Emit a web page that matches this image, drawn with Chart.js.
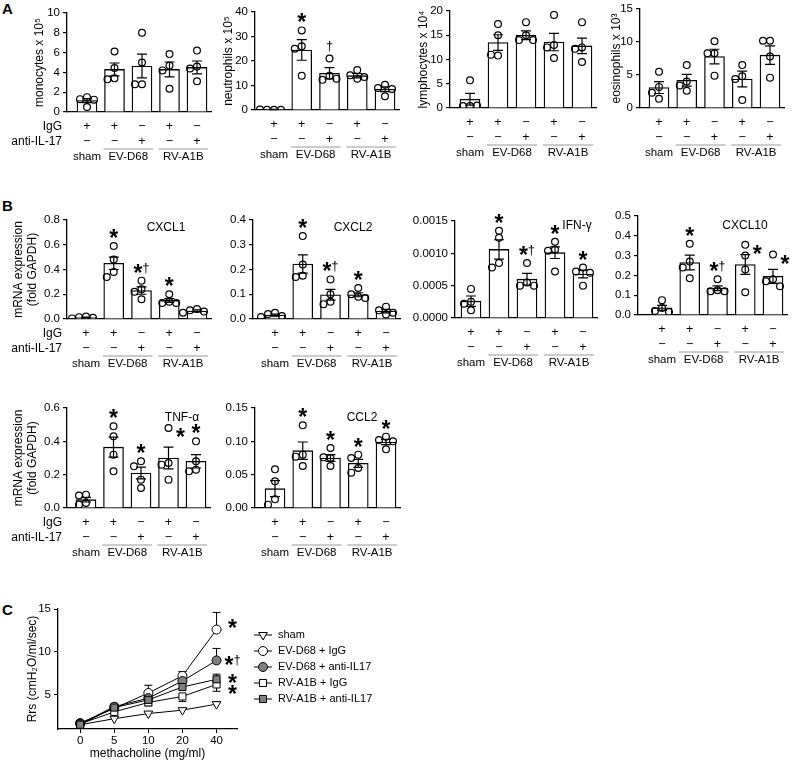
<!DOCTYPE html>
<html>
<head>
<meta charset="utf-8">
<script src="https://cdn.jsdelivr.net/npm/chart.js@4.4.1/dist/chart.umd.min.js"></script>
<style>
body { margin: 0; background: #fff; width: 793px; height: 761px; position: relative; overflow: hidden; }
canvas { position: absolute; }
.tag { position: absolute; font: bold 15px 'Liberation Sans', Arial, sans-serif; }
</style>
</head>
<body>
<div class="tag" style="left:2px;top:0px">A</div>
<div class="tag" style="left:2px;top:197px">B</div>
<div class="tag" style="left:2px;top:601px">C</div>
<script>
// ---- table rows under the bars
const igRow = ['+', '+', '−', '+', '−'];
const antiRow = ['−', '−', '+', '−', '+'];
const groupNames = ['sham', 'EV-D68', 'RV-A1B'];

// ---- A: BAL cells (mean, sem, single mice)
const monoMean = [1.15, 4.3, 4.65, 4.3, 4.5];
const monoSem = [0.2, 0.65, 1.2, 0.75, 0.65];
const monoPts = [[1.5, 1.3, 1.25, 0.5], [6.1, 4.45, 3.4, 3.3], [8.0, 5.0, 2.8, 2.8], [5.85, 4.7, 4.2, 2.35], [6.2, 4.6, 4.4, 3.1]];
const monoMarks = ['', '', '', '', ''];

const neutMean = [0.2, 24.5, 15.0, 14.0, 8.5];
const neutSem = [0.1, 4.2, 2.3, 0.9, 1.0];
const neutPts = [[0.1, 0.1, 0.1, 0.2], [32.5, 26, 25, 14], [21, 14, 12.3, 12.8], [16.3, 14.2, 13.5, 12.8], [10.3, 9.0, 8.6, 5.6]];
const neutMarks = ['', '*', '†', '', ''];

const lymphMean = [1.8, 13.5, 15.0, 13.6, 12.8];
const lymphSem = [1.2, 1.6, 0.9, 1.8, 1.6];
const lymphPts = [[5.7, 0.4, 0.4, 0.5], [17.3, 15, 10.8, 11], [17.7, 15, 14, 14], [19.2, 13, 12.5, 10.3], [17.7, 12.5, 12.2, 9.5]];
const lymphMarks = ['', '', '', '', ''];

const eosMean = [3.1, 4.2, 7.8, 4.4, 8.0];
const eosSem = [0.9, 0.9, 1.1, 1.2, 1.4];
const eosPts = [[5.5, 3.2, 2.3, 1.4], [6.5, 4.0, 3.4, 2.6], [10.1, 8.3, 8.3, 4.9], [6.5, 4.8, 4.4, 1.2], [10.2, 10.2, 7.8, 4.6]];
const eosMarks = ['', '', '', '', ''];

// ---- B: mRNA expression
const cxcl1Mean = [0.012, 0.45, 0.23, 0.15, 0.065];
const cxcl1Sem = [0.004, 0.05, 0.03, 0.015, 0.008];
const cxcl1Pts = [[0.02, 0.015, 0.01, 0.005], [0.59, 0.48, 0.38, 0.34], [0.31, 0.24, 0.22, 0.16], [0.2, 0.14, 0.13, 0.13], [0.08, 0.07, 0.06, 0.05]];
const cxcl1Marks = ['', '*', '*†', '*', ''];

const cxcl2Mean = [0.016, 0.222, 0.098, 0.098, 0.032];
const cxcl2Sem = [0.004, 0.037, 0.022, 0.008, 0.007];
const cxcl2Pts = [[0.025, 0.02, 0.012, 0.008], [0.335, 0.22, 0.175, 0.17], [0.16, 0.1, 0.07, 0.06], [0.125, 0.1, 0.09, 0.085], [0.05, 0.035, 0.025, 0.018]];
const cxcl2Marks = ['', '*', '*†', '*', ''];

const ifngMean = [0.00026, 0.00106, 0.0006, 0.00101, 0.00068];
const ifngSem = [0.00008, 0.00015, 0.00009, 0.00009, 0.00006];
const ifngPts = [[0.00045, 0.00025, 0.00022, 0.00012], [0.00135, 0.00124, 0.00085, 0.00078], [0.00085, 0.00055, 0.0005, 0.0005], [0.00118, 0.00106, 0.00104, 0.00072], [0.00078, 0.00072, 0.0007, 0.0005]];
const ifngMarks = ['', '*', '*†', '*', '*'];

const cxcl10Mean = [0.036, 0.265, 0.135, 0.255, 0.195];
const cxcl10Sem = [0.013, 0.037, 0.012, 0.05, 0.035];
const cxcl10Pts = [[0.075, 0.035, 0.02, 0.015], [0.36, 0.27, 0.24, 0.185], [0.18, 0.125, 0.12, 0.12], [0.355, 0.3, 0.23, 0.115], [0.305, 0.18, 0.17, 0.145]];
const cxcl10Marks = ['', '*', '*†', '*', '*'];

const tnfMean = [0.05, 0.365, 0.21, 0.3, 0.28];
const tnfSem = [0.014, 0.06, 0.035, 0.065, 0.04];
const tnfPts = [[0.08, 0.075, 0.03, 0.02], [0.49, 0.43, 0.32, 0.22], [0.28, 0.25, 0.17, 0.12], [0.48, 0.27, 0.26, 0.17], [0.4, 0.28, 0.23, 0.22]];
const tnfMarks = ['', '*', '*', '*', '*'];

const ccl2Mean = [0.029, 0.086, 0.075, 0.067, 0.099];
const ccl2Sem = [0.012, 0.013, 0.005, 0.006, 0.004];
const ccl2Pts = [[0.058, 0.04, 0.013, 0.005], [0.124, 0.08, 0.077, 0.063], [0.09, 0.075, 0.076, 0.063], [0.08, 0.075, 0.06, 0.053], [0.107, 0.102, 0.1, 0.088]];
const ccl2Marks = ['', '*', '*', '*', '*'];

// ---- C: airway resistance
const doses = ['0', '5', '10', '20', '40'];
const seriesNames = ['sham', 'EV-D68 + IgG', 'EV-D68 + anti-IL17', 'RV-A1B + IgG', 'RV-A1B + anti-IL17'];
const shamRrs = [1.5, 2.2, 2.8, 3.2, 3.9];
const evIgGRrs = [1.7, 3.4, 5.2, 7.2, 12.6];
const evAntiRrs = [1.6, 3.6, 4.6, 6.6, 9.0];
const rvIgGRrs = [1.6, 3.0, 4.1, 4.8, 6.2];
const rvAntiRrs = [1.5, 3.5, 4.4, 5.9, 6.8];
const shamSem = [0.1, 0.2, 0.2, 0.2, 0.3];
const evIgGSem = [0.1, 0.3, 0.9, 0.5, 2.0];
const evAntiSem = [0.1, 0.3, 0.4, 0.6, 1.4];
const rvIgGSem = [0.1, 0.2, 0.4, 0.6, 0.8];
const rvAntiSem = [0.1, 0.2, 0.3, 0.5, 0.6];
const rrsMarks = ['', '*', '*†', '*', '*'];

const FONT = "'Liberation Sans', Arial, sans-serif";
Chart.defaults.font.family = FONT;
Chart.defaults.font.size = 11.5;
Chart.defaults.color = '#000';

function drawMark(ctx, s, x, yc) {
  const parts = [...s].map(ch => ({ ch, font: ch === '*' ? 'bold 23px ' + FONT : '13px ' + FONT }));
  let total = 0;
  parts.forEach(p => { ctx.font = p.font; p.w = ctx.measureText(p.ch).width; total += p.w; });
  let x0 = x - total / 2;
  ctx.textAlign = 'left';
  ctx.textBaseline = 'alphabetic';
  ctx.fillStyle = '#000';
  parts.forEach(p => {
    ctx.font = p.font;
    ctx.fillText(p.ch, x0, yc + (p.ch === '*' ? 13 : 4));
    x0 += p.w;
  });
}

// spread points sideways when they would overlap
function swarm(vals, pxPerY, spacing) {
  const placed = [];
  return vals.map(v => {
    const py = v * pxPerY;
    for (const k of [0, -1, 1, -2, 2]) {
      const ox = k * 7;
      if (placed.every(q => Math.hypot(q[0] - ox, q[1] - py) >= 7)) {
        placed.push([ox, py]);
        return ox / spacing;
      }
    }
    placed.push([0, py]);
    return 0;
  });
}

function barExtras(p, cLeft, cTop) {
  return {
    id: 'barExtras',
    afterDatasetsDraw(chart) {
      const ctx = chart.ctx, xs = chart.scales.x, ys = chart.scales.y;
      ctx.save();
      ctx.strokeStyle = '#000';
      ctx.lineWidth = 1.2;
      p.mean.forEach((m, i) => {
        const x = xs.getPixelForValue(i);
        const y1 = ys.getPixelForValue(m + p.sem[i]);
        const y0 = ys.getPixelForValue(Math.max(0, m - p.sem[i]));
        ctx.beginPath();
        ctx.moveTo(x, y0); ctx.lineTo(x, y1);
        ctx.moveTo(x - 5, y1); ctx.lineTo(x + 5, y1);
        ctx.moveTo(x - 5, y0); ctx.lineTo(x + 5, y0);
        ctx.stroke();
      });
      ctx.restore();
    },
    afterDraw(chart) {
      const ctx = chart.ctx, xs = chart.scales.x, ys = chart.scales.y;
      const b = chart.chartArea.bottom;
      const px = i => xs.getPixelForValue(i);
      ctx.save();
      ctx.fillStyle = '#000';
      ctx.textAlign = 'center';
      ctx.textBaseline = 'middle';
      ctx.font = '12.5px ' + FONT;
      igRow.forEach((s, i) => ctx.fillText(s, px(i), b + 15));
      antiRow.forEach((s, i) => ctx.fillText(s, px(i), b + 30));
      ctx.font = '11.5px ' + FONT;
      ctx.fillText(groupNames[0], px(0), b + 45);
      ctx.fillText(groupNames[1], (px(1) + px(2)) / 2, b + 45);
      ctx.fillText(groupNames[2], (px(3) + px(4)) / 2, b + 45);
      ctx.strokeStyle = '#999';
      ctx.lineWidth = 1;
      ctx.beginPath();
      ctx.moveTo(px(1) - 11, b + 37); ctx.lineTo(px(2) + 11, b + 37);
      ctx.moveTo(px(3) - 11, b + 37); ctx.lineTo(px(4) + 11, b + 37);
      ctx.stroke();
      if (p.rowLabels) {
        ctx.textAlign = 'right';
        ctx.font = '12px ' + FONT;
        ctx.fillText('IgG', 62 - cLeft, b + 15);
        ctx.fillText('anti-IL-17', 62 - cLeft, b + 30);
      }
      if (p.label) {
        ctx.textAlign = 'center';
        ctx.font = '12px ' + FONT;
        ctx.fillText(p.label, p.labelX - cLeft, p.labelY - cTop);
      }
      p.marks.forEach((mk, i) => {
        if (!mk) return;
        const topVal = Math.max(...p.pts[i], p.mean[i] + p.sem[i]);
        let x = px(i), y = ys.getPixelForValue(topVal);
        if (p.side && p.side[i]) { x += 12; y += 4; } else { y -= 13; }
        drawMark(ctx, mk, x, y);
      });
      ctx.restore();
    }
  };
}

function makeBarPanel(p) {
  const nLines = Array.isArray(p.title) ? p.title.length : (p.title ? 1 : 0);
  const titleOff = 4 + nLines * 14.4 / 2;
  const scaleLeft = p.titleX ? Math.round(p.titleX - titleOff) : p.axis - 44;
  const cLeft = p.rowLabels ? 0 : scaleLeft;
  const plotRight = p.last + 14;
  const cRight = Math.min(793, plotRight + 26);
  const cTop = p.top - 16, cBottom = p.bottom + 54;
  const spacing = (p.last - p.first) / 4;
  const cv = document.createElement('canvas');
  cv.width = cRight - cLeft;
  cv.height = cBottom - cTop;
  cv.style.left = cLeft + 'px';
  cv.style.top = cTop + 'px';
  document.body.appendChild(cv);

  const pxPerY = (p.bottom - p.top) / p.max;
  const pointData = [];
  p.pts.forEach((vals, i) => {
    const off = swarm(vals, pxPerY, spacing);
    vals.forEach((v, j) => pointData.push({ x: i + off[j], y: v }));
  });

  new Chart(cv, {
    type: 'bar',
    data: {
      datasets: [
        { type: 'scatter', data: pointData, order: 0, pointRadius: 3.4, pointBorderWidth: 1.2,
          pointBorderColor: '#000', pointBackgroundColor: 'rgba(255,255,255,0)' },
        { type: 'bar', data: p.mean.map((m, i) => ({ x: i, y: m })), order: 1,
          backgroundColor: '#fff', borderColor: '#000', borderWidth: 1.3, barThickness: 20 }
      ]
    },
    options: {
      responsive: false, animation: false, devicePixelRatio: 1, events: [],
      layout: { padding: { left: scaleLeft - cLeft, right: cRight - plotRight, top: p.top - cTop, bottom: cBottom - p.bottom } },
      plugins: { legend: { display: false }, tooltip: { enabled: false } },
      scales: {
        x: {
          type: 'linear', offset: false,
          min: -(p.first - p.axis) / spacing, max: 4 + (plotRight - p.last) / spacing,
          ticks: { display: false }, grid: { display: false },
          border: { color: '#000', width: 1.3 },
          afterFit: s => { s.height = 0; }
        },
        y: {
          min: 0, max: p.max,
          ticks: { stepSize: p.step, padding: 3, font: { size: 11.5 }, callback: v => Number(v).toFixed(p.dec) },
          grid: { drawOnChartArea: false, tickLength: 4, color: '#000', lineWidth: 1.2 },
          border: { color: '#000', width: 1.3 },
          title: { display: !!p.title, text: p.title, font: { size: 12 }, padding: { top: 4, bottom: 0 } },
          afterFit: s => { s.width = p.axis - scaleLeft; }
        }
      }
    },
    plugins: [barExtras(p, cLeft, cTop)]
  });
}

const mrnaTitle = ['mRNA expression', '(fold GAPDH)'];
const panels = [
  { mean: monoMean, sem: monoSem, pts: monoPts, marks: monoMarks, max: 10, step: 2, dec: 0,
    title: 'monocytes x 10⁵', titleX: 39, axis: 67, top: 13, bottom: 112, first: 87, last: 197, rowLabels: true },
  { mean: neutMean, sem: neutSem, pts: neutPts, marks: neutMarks, max: 40, step: 10, dec: 0,
    title: 'neutrophils x 10⁵', titleX: 228, axis: 255, top: 12, bottom: 110, first: 274, last: 385 },
  { mean: lymphMean, sem: lymphSem, pts: lymphPts, marks: lymphMarks, max: 20, step: 5, dec: 0,
    title: 'lymphocytes x 10⁴', titleX: 423, axis: 450, top: 11, bottom: 108, first: 470, last: 582 },
  { mean: eosMean, sem: eosSem, pts: eosPts, marks: eosMarks, max: 15, step: 5, dec: 0,
    title: 'eosinophils x 10³', titleX: 616, axis: 640, top: 9, bottom: 108, first: 659, last: 770 },
  { mean: cxcl1Mean, sem: cxcl1Sem, pts: cxcl1Pts, marks: cxcl1Marks, max: 0.8, step: 0.2, dec: 1,
    title: mrnaTitle, titleX: 25, axis: 67, top: 220, bottom: 319, first: 86, last: 197, rowLabels: true,
    label: 'CXCL1', labelX: 166, labelY: 228 },
  { mean: cxcl2Mean, sem: cxcl2Sem, pts: cxcl2Pts, marks: cxcl2Marks, max: 0.4, step: 0.1, dec: 1,
    axis: 253, top: 220, bottom: 319, first: 275, last: 386, label: 'CXCL2', labelX: 353, labelY: 228 },
  { mean: ifngMean, sem: ifngSem, pts: ifngPts, marks: ifngMarks, max: 0.0015, step: 0.0005, dec: 4,
    axis: 455, top: 221, bottom: 318, first: 471, last: 583, label: 'IFN-γ', labelX: 577, labelY: 226 },
  { mean: cxcl10Mean, sem: cxcl10Sem, pts: cxcl10Pts, marks: cxcl10Marks, side: [0, 0, 0, 1, 1], max: 0.5, step: 0.1, dec: 1,
    axis: 638, top: 216, bottom: 315, first: 662, last: 773, label: 'CXCL10', labelX: 745, labelY: 226 },
  { mean: tnfMean, sem: tnfSem, pts: tnfPts, marks: tnfMarks, side: [0, 0, 0, 1, 0], max: 0.6, step: 0.2, dec: 1,
    title: mrnaTitle, titleX: 25, axis: 67, top: 408, bottom: 508, first: 86, last: 196, rowLabels: true,
    label: 'TNF-α', labelX: 182, labelY: 418 },
  { mean: ccl2Mean, sem: ccl2Sem, pts: ccl2Pts, marks: ccl2Marks, max: 0.15, step: 0.05, dec: 2,
    axis: 255, top: 408, bottom: 508, first: 275, last: 386, label: 'CCL2', labelX: 362, labelY: 418 }
];
panels.forEach(makeBarPanel);

// ---- panel C
const rrsSeries = [shamRrs, evIgGRrs, evAntiRrs, rvIgGRrs, rvAntiRrs];
const rrsSems = [shamSem, evIgGSem, evAntiSem, rvIgGSem, rvAntiSem];
const rrsDir = [1, 1, 1, -1, 1];
const rrsStyle = [
  { pointStyle: 'triangle', rotation: 180, fill: '#fff', radius: 5 },
  { pointStyle: 'circle', rotation: 0, fill: '#fff', radius: 4.5 },
  { pointStyle: 'circle', rotation: 0, fill: '#808080', radius: 4.5 },
  { pointStyle: 'rect', rotation: 0, fill: '#fff', radius: 5 },
  { pointStyle: 'rect', rotation: 0, fill: '#808080', radius: 5 }
];
const starNudge = [0, -7, 0, 5, -1];

const cTopC = 590;
const cvC = document.createElement('canvas');
cvC.width = 400; cvC.height = 175;
cvC.style.left = '0px'; cvC.style.top = cTopC + 'px';
document.body.appendChild(cvC);

function markerAt(ctx, st, x, y) {
  ctx.fillStyle = st.fill;
  ctx.strokeStyle = '#000';
  ctx.lineWidth = 1;
  Chart.helpers.drawPoint(ctx, { pointStyle: st.pointStyle, rotation: st.rotation, radius: st.radius, borderWidth: 1 }, x, y);
}

const cExtras = {
  id: 'cExtras',
  beforeDatasetsDraw(chart) {
    const ctx = chart.ctx, xs = chart.scales.x, ys = chart.scales.y;
    ctx.save();
    ctx.strokeStyle = '#000';
    ctx.lineWidth = 1;
    rrsSeries.forEach((vals, k) => {
      vals.forEach((v, i) => {
        const x = xs.getPixelForValue(i);
        const y0 = ys.getPixelForValue(v);
        const y1 = ys.getPixelForValue(v + rrsDir[k] * rrsSems[k][i]);
        ctx.beginPath();
        ctx.moveTo(x, y0); ctx.lineTo(x, y1);
        ctx.moveTo(x - 4, y1); ctx.lineTo(x + 4, y1);
        ctx.stroke();
      });
    });
    ctx.restore();
  },
  afterDraw(chart) {
    const ctx = chart.ctx, xs = chart.scales.x, ys = chart.scales.y;
    ctx.save();
    rrsMarks.forEach((mk, k) => {
      if (!mk) return;
      const y = ys.getPixelForValue(rrsSeries[k][4]) + starNudge[k];
      drawMark(ctx, mk, xs.getPixelForValue(4) + 16, y);
    });
    // legend
    seriesNames.forEach((name, k) => {
      const y = 635 + 16 * k - cTopC;
      ctx.strokeStyle = '#000';
      ctx.lineWidth = 1;
      ctx.beginPath();
      ctx.moveTo(254, y); ctx.lineTo(272, y);
      ctx.stroke();
      markerAt(ctx, rrsStyle[k], 263, y);
      ctx.fillStyle = '#000';
      ctx.font = '11px ' + FONT;
      ctx.textAlign = 'left';
      ctx.textBaseline = 'middle';
      ctx.fillText(name, 278, y);
    });
    ctx.restore();
  }
};

new Chart(cvC, {
  type: 'line',
  data: {
    datasets: rrsSeries.map((vals, k) => ({
      label: seriesNames[k],
      data: vals.map((v, i) => ({ x: i, y: v })),
      borderColor: '#000', borderWidth: 1,
      pointStyle: rrsStyle[k].pointStyle, pointRotation: rrsStyle[k].rotation,
      pointRadius: rrsStyle[k].radius, pointBackgroundColor: rrsStyle[k].fill,
      pointBorderColor: '#000', pointBorderWidth: 1, order: 4 - k
    }))
  },
  options: {
    responsive: false, animation: false, devicePixelRatio: 1, events: [],
    layout: { padding: { left: 21, right: 163, top: 19, bottom: 0 } },
    plugins: { legend: { display: false }, tooltip: { enabled: false } },
    scales: {
      x: {
        type: 'linear', min: -0.65, max: 4.6,
        afterBuildTicks: s => { s.ticks = doses.map((d, i) => ({ value: i })); },
        ticks: { padding: 1, font: { size: 11.5 }, callback: v => doses[v] },
        grid: { drawOnChartArea: false, tickLength: 4, color: '#000' },
        border: { color: '#000', width: 1.3 },
        title: { display: true, text: 'methacholine (mg/ml)', font: { size: 12 }, padding: { top: 0, bottom: 4 } },
        afterFit: s => { s.height = 36; }
      },
      y: {
        min: 1, max: 15,
        afterBuildTicks: s => { s.ticks = [5, 10, 15].map(v => ({ value: v })); },
        ticks: { padding: 3, font: { size: 11.5 } },
        grid: { drawOnChartArea: false, tickLength: 4, color: '#000' },
        border: { color: '#000', width: 1.3 },
        title: { display: true, text: 'Rrs (cmH₂O/ml/sec)', font: { size: 12 }, padding: { top: 4, bottom: 0 } },
        afterFit: s => { s.width = 37; }
      }
    }
  },
  plugins: [cExtras]
});
</script>
</body>
</html>
